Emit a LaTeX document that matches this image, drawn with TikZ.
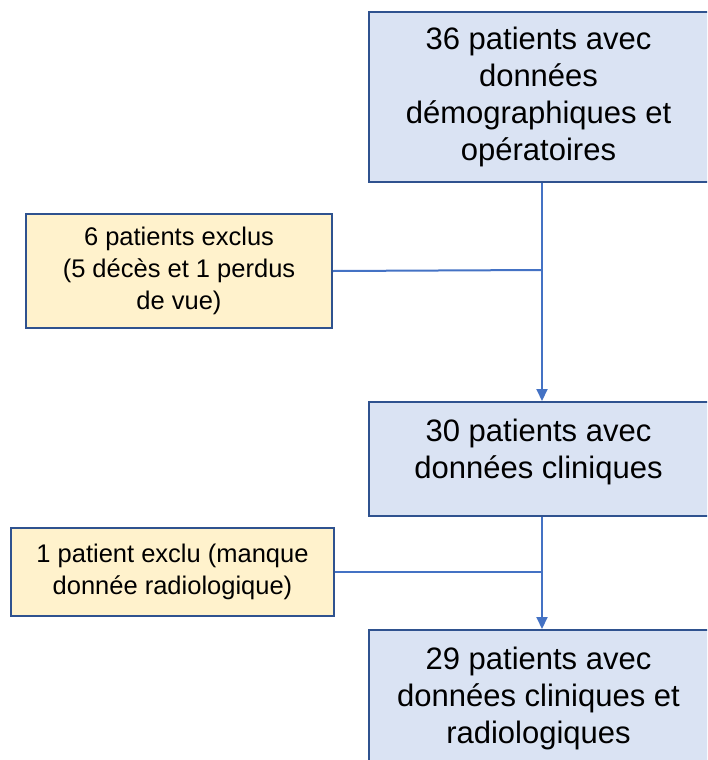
\documentclass[tikz,border=0pt]{standalone}
\usepackage{fontspec}
\setmainfont{Liberation Sans}
\usepackage{xcolor}
\usetikzlibrary{arrows.meta, positioning}

\definecolor{boxblue}{HTML}{DAE3F3}
\definecolor{boxyellow}{HTML}{FFF2CC}
\definecolor{edgeblue}{HTML}{2F528F}
\definecolor{lineblue}{HTML}{4472C4}

\begin{document}
\begin{tikzpicture}[
    x=0.5pt, y=-0.5pt,
    stage/.style={draw=edgeblue, line width=1pt, fill=boxblue, align=center, inner sep=0pt,
        minimum width=170pt, font=\fontsize{15.5}{18.5}\selectfont},
    excl/.style={draw=edgeblue, line width=1pt, fill=boxyellow, align=center, inner sep=0pt,
        font=\fontsize{12.75}{16}\selectfont},
    arrow/.style={-{Triangle[length=6pt, width=5.5pt]}, lineblue, line width=1pt},
    link/.style={lineblue, line width=1pt}
]
    \useasboundingbox (0,0) rectangle (707,760);
    \clip (0,0) rectangle (707,760);

    \node[stage, minimum height=85pt] (all) at (538.5,97) {36 patients avec\\données\\démographiques et\\opératoires};
    \node[stage, minimum height=57pt, text depth=10pt] (clin) at (538.5,459) {30 patients avec\\données cliniques};
    \node[stage, minimum height=68pt] (radio) at (538.5,698) {29 patients avec\\données cliniques et\\radiologiques};

    \node[excl, minimum width=153pt, minimum height=57pt] (out1) at (179,271) {6 patients exclus\\(5 décès et 1 perdus\\de vue)};
    \node[excl, minimum width=161.5pt, minimum height=44pt] (out2) at (172.5,572) {1 patient exclu (manque\\donnée radiologique)};

    % junctions on the main line
    \coordinate (j1) at (542,270);
    \coordinate (j2) at (542,572);

    \draw[arrow] (all.south -| j1) -- (clin.north -| j1);
    \draw[arrow] (clin.south -| j2) -- (radio.north -| j2);
    \draw[link] (out1.east) -- (j1);
    \draw[link] (out2.east) -- (j2);
\end{tikzpicture}
\end{document}
